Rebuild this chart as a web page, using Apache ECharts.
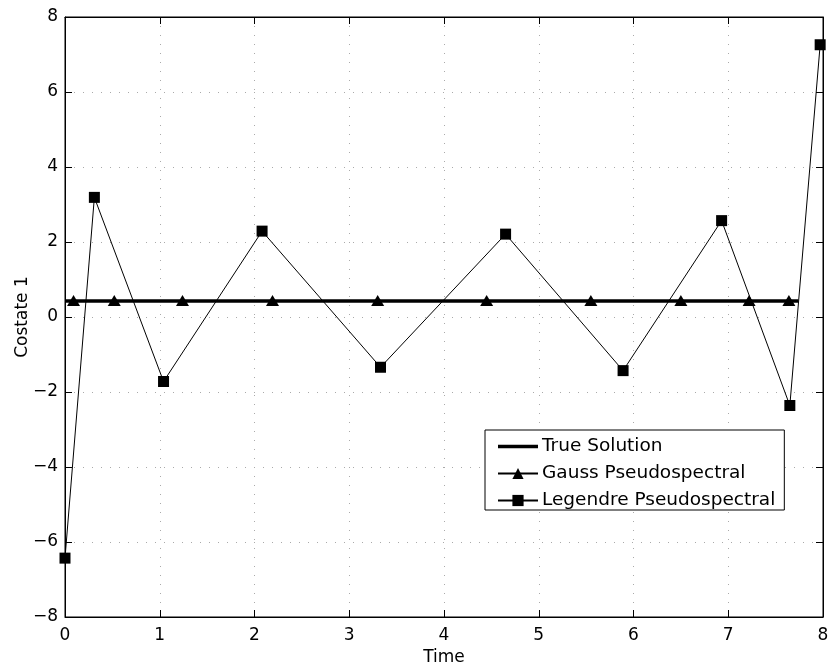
<!DOCTYPE html>
<html>
<head>
<meta charset="utf-8">
<title>Costate 1</title>
<script src="https://cdn.jsdelivr.net/npm/echarts@6/dist/echarts.min.js"></script>
<style>
  html, body { margin: 0; padding: 0; background: #fff; }
  #chart { width: 829px; height: 672px; }
</style>
</head>
<body>
<div id="chart"></div>
<script>
// Axis ranges and ticks
const xTicks = { min: 0, max: 8, step: 1 };
const yTicks = { min: -8, max: 8, step: 2 };

// True solution (constant costate)
const trueTime = [0, 7.74];
const trueCostate = [0.43, 0.43];

// Gauss pseudospectral solution
const gaussTime = [0.09, 0.52, 1.24, 2.19, 3.30, 4.45, 5.55, 6.50, 7.22, 7.64];
const gaussCostate = [0.44, 0.44, 0.44, 0.44, 0.44, 0.44, 0.44, 0.44, 0.44, 0.44];

// Legendre pseudospectral solution
const legendreTime = [0, 0.31, 1.04, 2.08, 3.33, 4.65, 5.89, 6.93, 7.65, 7.97];
const legendreCostate = [-6.43, 3.19, -1.72, 2.29, -1.34, 2.21, -1.43, 2.57, -2.36, 7.26];

const seriesNames = ['True Solution', 'Gauss Pseudospectral', 'Legendre Pseudospectral'];

const pairs = (xs, ys) => xs.map((x, i) => [x, ys[i]]);
// typographic minus for negative tick values
const fmtTick = v => String(v).replace('-', '\u2212');

const FONT = '"DejaVu Sans", "Liberation Sans", Arial, sans-serif';
const tickLabel = { color: '#000', fontSize: 17, fontFamily: FONT, formatter: fmtTick };

const chart = echarts.init(document.getElementById('chart'), null, { renderer: 'canvas' });

chart.setOption({
  backgroundColor: '#fff',
  animation: false,
  textStyle: { fontFamily: FONT },
  grid: {
    left: 65, right: 6, top: 17, bottom: 55,
    outerBoundsMode: 'none', containLabel: false,
    show: true, borderColor: '#000', borderWidth: 1, backgroundColor: 'transparent'
  },
  legend: {
    data: [
      { name: seriesNames[0], icon: 'path://M0,0H40V3.5H0Z' },
      { name: seriesNames[1] },
      { name: seriesNames[2] }
    ],
    orient: 'vertical',
    left: 485, top: 430,
    itemWidth: 40, itemHeight: 14, itemGap: 8,
    symbolKeepAspect: true,
    padding: [7, 9, 0, 12],
    backgroundColor: '#fff',
    borderColor: '#000', borderWidth: 1, borderRadius: 0,
    textStyle: { color: '#000', fontSize: 18.5, fontFamily: FONT, padding: [0, 0, 0, -1] },
    selectedMode: false
  },
  xAxis: [
    {
      type: 'value', position: 'bottom',
      min: xTicks.min, max: xTicks.max, interval: xTicks.step,
      name: 'Time', nameLocation: 'middle', nameGap: 32, nameMoveOverlap: false,
      nameTextStyle: { color: '#000', fontSize: 17, fontFamily: FONT },
      axisLine: { show: true, onZero: false, lineStyle: { color: '#000', width: 1 } },
      axisTick: { show: true, inside: true, length: 7, lineStyle: { color: '#000' } },
      axisLabel: Object.assign({ margin: 10 }, tickLabel),
      splitLine: { show: true, lineStyle: { color: '#aaa', type: [1, 8], width: 1 } }
    },
    {
      type: 'value', position: 'top',
      min: xTicks.min, max: xTicks.max, interval: xTicks.step,
      axisLine: { show: true, onZero: false, lineStyle: { color: '#000', width: 1 } },
      axisTick: { show: true, inside: true, length: 7, lineStyle: { color: '#000' } },
      axisLabel: { show: false },
      splitLine: { show: false }
    }
  ],
  yAxis: [
    {
      type: 'value', position: 'left',
      min: yTicks.min, max: yTicks.max, interval: yTicks.step,
      name: 'Costate 1', nameLocation: 'middle', nameGap: 34, nameRotate: 90, nameMoveOverlap: false,
      nameTextStyle: { color: '#000', fontSize: 17, fontFamily: FONT },
      axisLine: { show: true, onZero: false, lineStyle: { color: '#000', width: 1 } },
      axisTick: { show: true, inside: true, length: 7, lineStyle: { color: '#000' } },
      axisLabel: Object.assign({ margin: 7 }, tickLabel),
      splitLine: { show: true, lineStyle: { color: '#aaa', type: [1, 8], width: 1 } }
    },
    {
      type: 'value', position: 'right',
      min: yTicks.min, max: yTicks.max, interval: yTicks.step,
      axisLine: { show: true, onZero: false, lineStyle: { color: '#000', width: 1 } },
      axisTick: { show: true, inside: true, length: 7, lineStyle: { color: '#000' } },
      axisLabel: { show: false },
      splitLine: { show: false }
    }
  ],
  series: [
    {
      name: seriesNames[0], type: 'line',
      xAxisIndex: 0, yAxisIndex: 0,
      data: pairs(trueTime, trueCostate),
      symbol: 'none', clip: false,
      lineStyle: { color: '#000', width: 3.5 },
      itemStyle: { color: '#000' },
      z: 3
    },
    {
      name: seriesNames[1], type: 'line',
      xAxisIndex: 0, yAxisIndex: 0,
      data: pairs(gaussTime, gaussCostate),
      symbol: 'triangle', symbolSize: [13, 11], showAllSymbol: true, clip: false,
      lineStyle: { color: '#000', width: 1 },
      itemStyle: { color: '#000', borderWidth: 0 },
      z: 4
    },
    {
      name: seriesNames[2], type: 'line',
      xAxisIndex: 0, yAxisIndex: 0,
      data: pairs(legendreTime, legendreCostate),
      symbol: 'rect', symbolSize: 11, showAllSymbol: true, clip: false,
      lineStyle: { color: '#000', width: 1 },
      itemStyle: { color: '#000', borderWidth: 0 },
      z: 5
    }
  ]
});
</script>
</body>
</html>
